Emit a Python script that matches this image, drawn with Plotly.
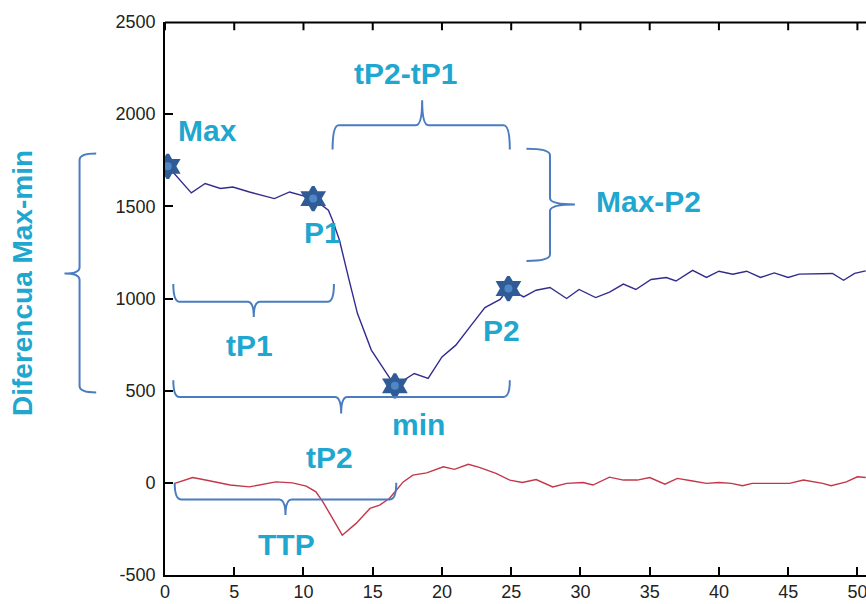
import plotly.graph_objects as go

# ---------------- data ----------------
blue_t = [0.2, 1.9, 2.9, 4.0, 4.9, 6.1, 7.9, 9.0, 10.7, 11.8, 12.1, 12.6, 13.3, 13.9,
          14.9, 15.7, 16.6, 18.0, 19.0, 20.0, 21.0, 22.2, 23.1, 24.2, 24.8, 25.9,
          26.8, 27.8, 29.0, 29.9, 31.1, 32.1, 33.1, 34.0, 35.1, 36.2, 36.9, 38.1,
          39.1, 40.0, 41.0, 42.0, 43.0, 44.0, 45.0, 45.8, 47.3, 48.2, 49.0, 49.8, 50.6]
blue_v = [1717, 1573, 1624, 1597, 1605, 1578, 1542, 1578, 1542, 1479, 1425, 1316, 1098, 918,
          720, 629, 526, 593, 566, 683, 747, 864, 951, 995, 1054, 1009,
          1045, 1060, 1000, 1049, 1005, 1035, 1078, 1049, 1103, 1114, 1095, 1153,
          1114, 1148, 1132, 1148, 1114, 1139, 1114, 1132, 1136, 1136, 1099, 1136, 1150]

red_t = [0.7, 2.0, 3.2, 4.7, 6.1, 6.8, 8.0, 9.2, 10.2, 10.9, 11.4, 12.1, 12.8, 13.8,
         14.8, 15.5, 16.2, 16.7, 17.2, 17.9, 18.9, 20.1, 20.9, 21.9, 22.7, 23.9,
         24.9, 25.8, 26.8, 28.0, 29.0, 30.2, 30.9, 32.1, 33.1, 34.1, 35.0, 36.1,
         37.0, 38.0, 39.1, 40.0, 40.9, 41.7, 42.4, 44.1, 45.1, 46.1, 47.5, 48.1,
         49.2, 50.0, 50.6]
red_v = [-3, 29, 11, -12, -22, -12, 5, 0, -18, -49, -103, -193, -284, -220,
         -139, -121, -85, -40, 5, 42, 54, 87, 73, 101, 84, 51,
         15, 2, 18, -22, -3, 2, -12, 31, 15, 15, 29, -7,
         24, 11, -3, 2, -3, -16, -3, -3, -3, 15, -3, -16,
         5, 33, 29]

# key points (indices into the blue series): Max, P1, min, P2
key_idx = [0, 8, 16, 24]

x_ticks = [0, 5, 10, 15, 20, 25, 30, 35, 40, 45, 50]
y_ticks = [-500, 0, 500, 1000, 1500, 2000, 2500]
X_RANGE = [0, 50.62]
Y_RANGE = [-500, 2500]

# annotation labels: (text, x, y)
labels = [("Max", 3.1, 1912), ("tP2-tP1", 17.4, 2222), ("Max-P2", 34.9, 1527),
          ("P1", 11.4, 1359), ("P2", 24.3, 828), ("tP1", 6.1, 747),
          ("min", 18.3, 318), ("tP2", 11.9, 139), ("TTP", 8.8, -333)]
side_label = "Diferencua Max-min"

# braces: (orientation, a0, a1, line, ends, tip_pos, tip)
braces = [("h", 12.1, 24.9, 1940, 1808, 18.57, 2075),
          ("h", 0.6, 12.2, 982, 1078, 6.41, 900),
          ("h", 0.6, 24.9, 466, 557, 12.72, 376),
          ("h", 0.7, 16.7, -90, 0, 8.7, -175),
          ("v", 1813, 1204, 27.8, 26.1, 1510, 29.6),
          ("v", 1786, 490, -6.17, -4.97, 1135, -7.26)]

TEXT_C = "#1fa7cf"
BRACE_C = "#4a7cc0"


def px(t):
    return (t - X_RANGE[0]) / (X_RANGE[1] - X_RANGE[0])


def py(v):
    return (v - Y_RANGE[0]) / (Y_RANGE[1] - Y_RANGE[0])


def brace_path(o, a0, a1, line, ends, tp, tip):
    if o == "h":
        r = 0.45 if a1 > a0 else -0.45
        pts = [("M", [(a0, ends)]),
               ("Q", [(a0, line), (a0 + r, line)]),
               ("L", [(tp - r, line)]),
               ("Q", [(tp, line), (tp, tip)]),
               ("Q", [(tp, line), (tp + r, line)]),
               ("L", [(a1 - r, line)]),
               ("Q", [(a1, line), (a1, ends)])]
    else:
        r = 35 if a1 > a0 else -35
        pts = [("M", [(ends, a0)]),
               ("Q", [(line, a0), (line, a0 + r)]),
               ("L", [(line, tp - r)]),
               ("Q", [(line, tp), (tip, tp)]),
               ("Q", [(line, tp), (line, tp + r)]),
               ("L", [(line, a1 - r)]),
               ("Q", [(line, a1), (ends, a1)])]
    s = ""
    for cmd, ps in pts:
        s += cmd + " " + " ".join(f"{px(x):.5f},{py(y):.5f}" for x, y in ps) + " "
    return s.strip()


def tick_path_top():
    # top box edge with inward ticks, as one path in paper coords
    s = "M 0,0.999 L 1,0.999"
    for t in x_ticks:
        s += f" M {px(t):.5f},0.999 L {px(t):.5f},0.985"
    return s


fig = go.Figure()
fig.add_trace(go.Scatter(x=red_t, y=red_v, mode="lines",
                         line=dict(color="#c2374a", width=1.4), hoverinfo="skip"))
fig.add_trace(go.Scatter(x=blue_t, y=blue_v, mode="lines",
                         line=dict(color="#332c8e", width=1.4), hoverinfo="skip"))
kx = [blue_t[i] for i in key_idx]
ky = [blue_v[i] for i in key_idx]
fig.add_trace(go.Scatter(x=kx, y=ky, mode="markers",
                         marker=dict(symbol="hexagram", size=18, color="#2f5b96",
                                     line=dict(color="#2f5b96", width=3)),
                         hoverinfo="skip"))
fig.add_trace(go.Scatter(x=kx, y=ky, mode="markers",
                         marker=dict(symbol="circle", size=8, color="#4f86c6"),
                         hoverinfo="skip"))

shapes = []
for b in braces:
    shapes.append(dict(type="path", xref="paper", yref="paper", path=brace_path(*b),
                       line=dict(color=BRACE_C, width=2), layer="above"))
shapes.append(dict(type="path", xref="paper", yref="paper", path=tick_path_top(),
                   line=dict(color="black", width=2), layer="above"))

annotations = []
for txt, x, y in labels:
    annotations.append(dict(text=txt, x=x, y=y, xref="x", yref="y", showarrow=False,
                            font=dict(family="Liberation Sans, Arial", size=30, color=TEXT_C),
                            xanchor="center", yanchor="middle"))
annotations.append(dict(text=side_label, x=-0.204, y=0.528, xref="paper", yref="paper",
                        showarrow=False, textangle=-90,
                        font=dict(family="Liberation Sans, Arial", size=28, color=TEXT_C),
                        xanchor="center", yanchor="middle"))
for a in annotations:
    a["text"] = "<b>" + a["text"] + "</b>"

fig.update_layout(
    width=866, height=604,
    margin=dict(l=165, r=0, t=22, b=29),
    paper_bgcolor="white", plot_bgcolor="white",
    showlegend=False,
    shapes=shapes, annotations=annotations,
    xaxis=dict(range=X_RANGE, tickvals=x_ticks, ticktext=[str(v) for v in x_ticks],
               showgrid=False, zeroline=False, showline=True, linecolor="black", linewidth=1.6,
               ticks="inside", ticklen=8, tickcolor="black", tickwidth=2,
               ticklabeloverflow="allow",
               tickfont=dict(family="Liberation Sans, Arial", size=18, color="#222")),
    yaxis=dict(range=Y_RANGE, tickvals=y_ticks, ticktext=[str(v) for v in y_ticks],
               showgrid=False, zeroline=False, showline=True, linecolor="black", linewidth=1.6,
               ticks="inside", ticklen=8, tickcolor="black", tickwidth=2, ticklabelstandoff=4,
               tickfont=dict(family="Liberation Sans, Arial", size=18, color="#222")),
)

fig.write_html("out.html")
